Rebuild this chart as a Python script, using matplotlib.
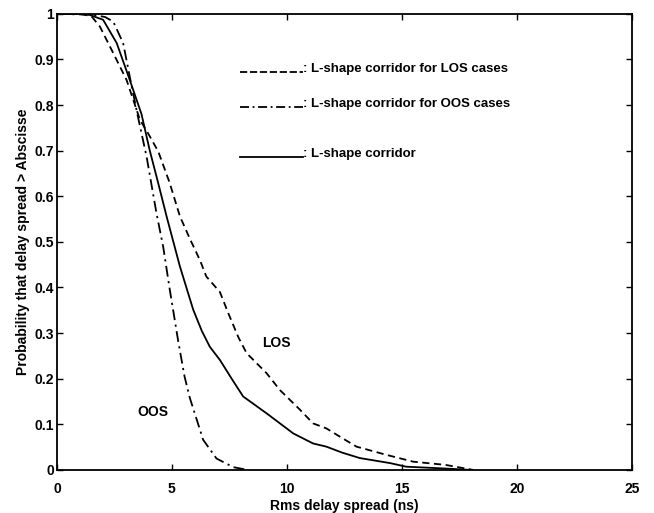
import numpy as np
import matplotlib.pyplot as plt

plt.rcParams['font.family'] = ['Liberation Sans', 'DejaVu Sans']
plt.rcParams['font.weight'] = 'bold'

# LOS cases (dashed)
los_x = [0, 1.0, 1.5, 1.87, 2.45, 3.03, 3.61, 4.0, 4.41, 4.9, 5.35, 5.8, 6.22, 6.5, 7.09,
         7.45, 7.9, 8.25, 9.12, 9.70, 10.57, 11.14, 11.72, 12.4, 13.03, 14.33, 15.5, 16.9, 18.1]
los_y = [1, 1, 0.995, 0.972, 0.914, 0.855, 0.768, 0.735, 0.698, 0.63, 0.556, 0.505, 0.46,
         0.424, 0.39, 0.344, 0.29, 0.256, 0.212, 0.175, 0.132, 0.102, 0.091, 0.07, 0.051,
         0.033, 0.018, 0.011, 0]

# OOS cases (dash-dot)
oos_x = [0, 1.58, 2.1, 2.45, 2.88, 3.17, 3.5, 3.90, 4.33, 4.62, 4.91, 5.28, 5.55, 5.78,
         6.36, 6.94, 7.67, 8.3]
oos_y = [1, 0.998, 0.993, 0.983, 0.936, 0.862, 0.78, 0.687, 0.563, 0.49, 0.395, 0.281,
         0.205, 0.158, 0.066, 0.025, 0.006, 0]

# all cases (solid)
all_x = [0, 1.3, 2.01, 2.6, 3.17, 3.68, 4.04, 4.4, 4.77, 5.35, 5.93, 6.3, 6.65, 7.09, 7.6,
         8.10, 9.12, 10.28, 11.14, 11.72, 12.4, 13.17, 14.48, 15.2, 16.9, 18.0]
all_y = [1, 1, 0.987, 0.936, 0.855, 0.78, 0.70, 0.63, 0.556, 0.446, 0.351, 0.305, 0.27,
         0.241, 0.2, 0.161, 0.124, 0.080, 0.058, 0.051, 0.038, 0.026, 0.015, 0.007, 0.003, 0]

legend_labels = [': L-shape corridor for LOS cases',
                 ': L-shape corridor for OOS cases',
                 ': L-shape corridor']

fig = plt.figure(figsize=(6.54, 5.13), dpi=100)
ax = fig.add_axes([0.087, 0.084, 0.879, 0.889])

ax.plot(los_x, los_y, color='black', lw=1.3, ls=(0, (4, 2.5)))
ax.plot(oos_x, oos_y, color='black', lw=1.3, ls=(0, (6, 2.5, 1.2, 2.5)))
ax.plot(all_x, all_y, color='black', lw=1.3, ls='-')

# hand-drawn style legend
styles = [(0, (4, 1.5)), (0, (5, 2, 1, 2)), '-']
ys = [0.873, 0.796, 0.686]
for st, yy, lab in zip(styles, ys, legend_labels):
    ax.plot([0.318, 0.428], [yy, yy], transform=ax.transAxes, color='black',
            lw=1.3, ls=st)
    ax.text(0.428, yy, lab, transform=ax.transAxes, fontsize=9.5,
            fontweight='bold', va='baseline', ha='left')

ax.text(9.55, 0.278, 'LOS', fontsize=10, fontweight='bold', ha='center', va='center')
ax.text(4.19, 0.128, 'OOS', fontsize=10, fontweight='bold', ha='center', va='center')

ax.set_xlim(0, 25)
ax.set_ylim(0, 1)
ax.set_xticks(np.arange(0, 26, 5))
ax.set_yticks(np.round(np.arange(0, 1.01, 0.1), 1))
ax.set_yticklabels(['0', '0.1', '0.2', '0.3', '0.4', '0.5', '0.6', '0.7', '0.8', '0.9', '1'])
ax.tick_params(direction='in', top=True, right=True, labelsize=10, length=4, width=1)
ax.tick_params(axis='x', pad=9)
ax.tick_params(axis='y', pad=2)
for lab in ax.get_xticklabels() + ax.get_yticklabels():
    lab.set_fontweight('bold')
for sp in ax.spines.values():
    sp.set_linewidth(1.3)

ax.set_xlabel('Rms delay spread (ns)', fontsize=10, fontweight='bold', labelpad=2)
ax.set_ylabel('Probability that delay spread > Abscisse', fontsize=10, fontweight='bold',
              labelpad=3)

fig.savefig('out.png', dpi=100)
